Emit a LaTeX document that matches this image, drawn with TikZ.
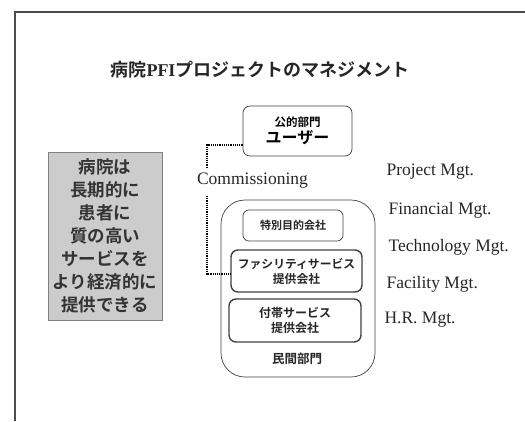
\documentclass[tikz,border=0pt]{standalone}
\usepackage{fontspec}
\setmainfont{Liberation Serif}
\newfontfamily\jp{Noto Sans CJK JP}
\newfontfamily\jpb{Noto Sans CJK JP Bold}
\begin{document}
\begin{tikzpicture}[x=1pt,y=-1pt,
  box/.style={draw=black!75, rounded corners=7pt, line width=0.7pt, inner sep=0pt, align=center},
  thickbox/.style={box, line width=1.4pt},
  conn/.style={line width=1.2pt, dash pattern=on 1.2pt off 1pt},
  mgt/.style={anchor=west, font=\fontsize{17.5}{20}\selectfont, text=black!85},
  jtext/.style={font=\jp\fontsize{12}{14.5}\selectfont, text=black!85}]
\useasboundingbox (0,0) rectangle (525,421);
% frame
\draw[line width=1.8pt, black!70] (15,421) -- (15,12) -- (525,12);
% title
\node[inner sep=0pt, text=black!85] (title) at (260,70)
  {\fontsize{18}{20}\selectfont\jpb 病院{\rmfamily\bfseries PFI}プロジェクトのマネジメント};
% left box
\node[draw=black!50, fill=black!20, line width=0.8pt, minimum width=114pt, minimum height=168pt,
      inner sep=0pt, align=center, font=\jpb\fontsize{17.5}{23}\selectfont, text=black!80] (left) at (105,236)
  {病院は\\長期的に\\患者に\\質の高い\\サービスを\\より経済的に\\提供できる};
% user box
\node[box, minimum width=109pt, minimum height=50pt] (user) at (297.5,131)
  {{\jpb\fontsize{11.5}{13}\selectfont 公的部門}\\[2pt]{\jpb\fontsize{16}{18}\selectfont ユーザー}};
% private sector big box
\node[box, rounded corners=24pt, minimum width=154pt, minimum height=177pt] (priv) at (298,288.5) {};
\node[jtext, font=\jpb\fontsize{12.5}{14}\selectfont] (privlabel) at (297,359) {民間部門};
\node[box, rounded corners=6pt, minimum width=100pt, minimum height=31pt, jtext,
      font=\jpb\fontsize{11}{13}\selectfont] (spc) at (293,225.5) {特別目的会社};
\node[thickbox, minimum width=131pt, minimum height=42pt, jtext,
      font=\jpb\fontsize{11.8}{15}\selectfont] (fac) at (296.5,271) {ファシリティサービス\\提供会社};
\node[thickbox, minimum width=132pt, minimum height=43pt, jtext,
      font=\jpb\fontsize{12}{15.5}\selectfont] (futai) at (295,320.5) {付帯サービス\\提供会社};
% commissioning
\node[inner sep=0pt, font=\fontsize{17.5}{20}\selectfont, text=black!85] (comm) at (252.5,181) {Commissioning};
\coordinate (c1) at (207,167);
\coordinate (c2) at (207,196);
\draw[conn] ([yshift=-14pt]user.west) -| (c1);
\draw[conn] (c2) |- ([yshift=-3pt]fac.west);
% management labels
\node[mgt] (pm) at (383,172) {Project Mgt.};
\node[mgt] (fm) at (385,210) {Financial Mgt.};
\node[mgt] (tm) at (385,247) {Technology Mgt.};
\node[mgt] (fcm) at (383,284) {Facility Mgt.};
\node[mgt] (hr) at (381,320) {H.R. Mgt.};
\end{tikzpicture}
\end{document}
